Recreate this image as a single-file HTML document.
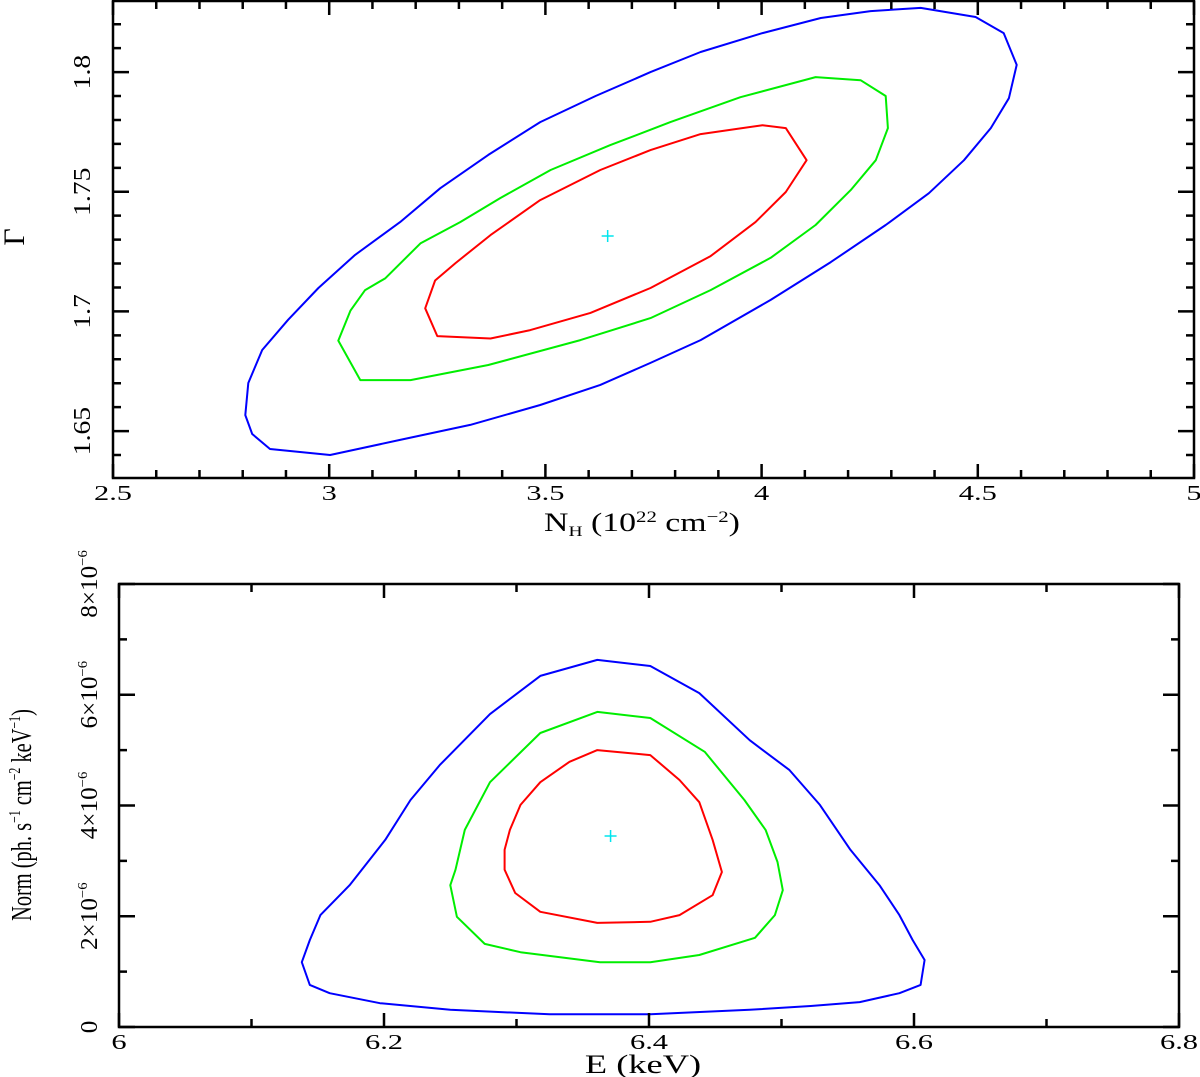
<!DOCTYPE html>
<html><head><meta charset="utf-8">
<style>
html,body{margin:0;padding:0;background:#fff;}
svg{display:block;font-family:"Liberation Serif",serif;}
</style></head>
<body>
<svg id="fig" width="1200" height="1077" viewBox="0 0 1200 1077" xmlns="http://www.w3.org/2000/svg"></svg>
<script>
// ---- Top panel data (NH, Gamma) ----
const topBlueNH=[4.590,4.572,4.530,4.468,4.387,4.287,4.160,4.021,3.859,3.743,3.627,3.488,3.326,3.164,3.002,2.863,2.822,2.806,2.813,2.845,2.905,2.975,3.060,3.164,3.257,3.368,3.488,3.616,3.743,3.859,4.002,4.137,4.252,4.368,4.495,4.560];
const topBlueG=[1.8030,1.7891,1.7766,1.7632,1.7494,1.7361,1.7206,1.7048,1.6880,1.6785,1.6693,1.6609,1.6526,1.6463,1.6400,1.6425,1.6488,1.6567,1.6701,1.6839,1.6965,1.7098,1.7236,1.7373,1.7515,1.7654,1.7791,1.7900,1.8000,1.8084,1.8163,1.8226,1.8255,1.8268,1.8230,1.8163];
const topGreenNH=[4.292,4.264,4.206,4.125,4.021,3.882,3.743,3.581,3.368,3.188,3.072,3.021,3.049,3.083,3.130,3.211,3.303,3.396,3.512,3.650,3.789,3.951,4.125,4.229,4.287];
const topGreenG=[1.7766,1.7632,1.7507,1.7361,1.7224,1.7089,1.6972,1.6880,1.6776,1.6713,1.6713,1.6878,1.7003,1.7089,1.7139,1.7284,1.7373,1.7474,1.7591,1.7695,1.7791,1.7895,1.7979,1.7966,1.7900];
const topRedNH=[4.104,4.056,3.986,3.882,3.743,3.604,3.465,3.373,3.250,3.222,3.245,3.292,3.373,3.488,3.627,3.743,3.859,4.002,4.056];
const topRedG=[1.7632,1.7499,1.7373,1.7231,1.7098,1.6994,1.6922,1.6887,1.6897,1.7013,1.7129,1.7202,1.7319,1.7465,1.7591,1.7674,1.7741,1.7778,1.7766];
const topBest=[3.644,1.7315];
const topXTicks=[2.5,3,3.5,4,4.5,5];
const topXTickLabels=["2.5","3","3.5","4","4.5","5"];
const topYTicks=[1.65,1.7,1.75,1.8];
const topYTickLabels=["1.65","1.7","1.75","1.8"];
const topYTickExps=["","","",""];
// ---- Bottom panel data (E keV, Norm in 1e-6) ----
const botBlueE=[6.138,6.144,6.159,6.197,6.250,6.325,6.401,6.476,6.522,6.559,6.589,6.605,6.608,6.599,6.589,6.574,6.552,6.529,6.506,6.476,6.438,6.401,6.361,6.318,6.280,6.242,6.220,6.201,6.174,6.152,6.144];
const botBlueN=[1.17,0.76,0.61,0.43,0.31,0.23,0.23,0.31,0.38,0.45,0.61,0.76,1.21,1.57,2.02,2.56,3.20,4.01,4.64,5.18,6.03,6.52,6.63,6.34,5.65,4.73,4.10,3.38,2.56,2.02,1.57];
const botGreenE=[6.254,6.250,6.255,6.276,6.303,6.363,6.401,6.438,6.480,6.495,6.501,6.497,6.488,6.472,6.442,6.401,6.361,6.318,6.280,6.261];
const botGreenN=[2.84,2.56,1.99,1.50,1.35,1.17,1.17,1.30,1.61,2.02,2.47,2.98,3.56,4.10,4.97,5.58,5.69,5.31,4.42,3.56];
const botRedE=[6.361,6.401,6.423,6.438,6.448,6.455,6.448,6.423,6.401,6.361,6.318,6.299,6.291,6.291,6.295,6.303,6.318,6.340];
const botRedN=[5.00,4.91,4.46,4.06,3.38,2.80,2.38,2.02,1.90,1.88,2.08,2.42,2.84,3.20,3.56,4.01,4.42,4.79];
const botBest=[6.371,3.45];
const botXTicks=[6,6.2,6.4,6.6,6.8];
const botXTickLabels=["6","6.2","6.4","6.6","6.8"];
const botYTicks=[0,2,4,6,8];
const botYTickLabels=["0","2×10","4×10","6×10","8×10"];
const botYTickExps=["","−6","−6","−6","−6"];

const NS="http://www.w3.org/2000/svg";
const svg=document.getElementById('fig');
function mk(tag,attrs,parent){const e=document.createElementNS(NS,tag);for(const k in attrs)e.setAttribute(k,attrs[k]);(parent||svg).appendChild(e);return e;}

function panel(p){
  const g=mk('g',{});
  
  
  const sx=v=>p.x0+(v-p.xmin)/(p.xmax-p.xmin)*(p.x1-p.x0);
  const sy=v=>p.y1-(v-p.ymin)/(p.ymax-p.ymin)*(p.y1-p.y0);
  p.series.forEach(s=>{
    const pts=s.xs.map((v,i)=>sx(v).toFixed(1)+','+sy(s.ys[i]).toFixed(1)).join(' ');
    const pl=mk('polygon',{points:pts,fill:'none',stroke:s.color,'stroke-width':2,'stroke-linejoin':'round'},g);
    
    
  });
  const bx=sx(p.best[0]),by=sy(p.best[1]);
  const cr=mk('path',{d:`M${bx-6},${by}H${bx+6}M${bx},${by-6}V${by+6}`,stroke:'#00e5ee','stroke-width':1.5},g);
  
  
  const fr=mk('rect',{x:p.x0,y:p.y0,width:p.x1-p.x0,height:p.y1-p.y0,fill:'none',stroke:'#000','stroke-width':2.5},g);
  
  
  let tk='';
  for(let v=p.xmin;v<=p.xmax+1e-9;v+=p.xminor){const x=sx(v);const major=Math.abs(v/p.xmajor-Math.round(v/p.xmajor))<1e-6;const L=major?14:8;tk+=`M${x},${p.y1}V${p.y1-L}M${x},${p.y0}V${p.y0+L}`;}
  let start=Math.ceil(p.ymin/p.yminor-1e-9)*p.yminor;
  for(let v=start;v<=p.ymax+1e-9;v+=p.yminor){const y=sy(v);const major=Math.abs(v/p.ymajor-Math.round(v/p.ymajor))<1e-6;const L=major?16:8;tk+=`M${p.x0},${y}H${p.x0+L}M${p.x1},${y}H${p.x1-L}`;}
  const tp=mk('path',{d:tk,stroke:'#000','stroke-width':2.5,fill:'none'},g);
  
  
  p.xt.forEach((v,i)=>{const t=mk('text',{x:0,y:0,'text-anchor':'middle','font-size':21,transform:`translate(${sx(v)},${p.y1+22}) scale(1.45,1)`},g);t.textContent=p.xl[i];
    
    });
  p.yt.forEach((v,i)=>{const y=sy(v);const t=mk('text',{x:0,y:0,'text-anchor':'middle','font-size':24,transform:`translate(${p.x0-p.ylabOff},${y}) rotate(-90) scale(${p.ylabScale},1)`},g);
    t.textContent=p.yl[i];
    if(p.ye[i]){const s=mk('tspan',{'font-size':14,dy:-10},t);s.textContent=p.ye[i];}
    
    });
  return g;
}

panel({name:'top-panel',x0:113,x1:1194,y0:1,y1:478,xmin:2.5,xmax:5,ymin:1.6304,ymax:1.8297,xmajor:0.5,xminor:0.1,ymajor:0.05,yminor:0.01,
  xt:topXTicks,xl:topXTickLabels,yt:topYTicks,yl:topYTickLabels,ye:topYTickExps,ylabOff:23,ylabScale:1.15,best:topBest,
  series:[{xs:topBlueNH,ys:topBlueG,color:'#0000ff',name:'contour-99'},{xs:topGreenNH,ys:topGreenG,color:'#00ee00',name:'contour-90'},{xs:topRedNH,ys:topRedG,color:'#ff0000',name:'contour-68'}]});
panel({name:'bottom-panel',x0:119,x1:1179,y0:584,y1:1027,xmin:6,xmax:6.8,ymin:0,ymax:8,xmajor:0.2,xminor:0.1,ymajor:2,yminor:1,
  xt:botXTicks,xl:botXTickLabels,yt:botYTicks,yl:botYTickLabels,ye:botYTickExps,ylabOff:22,ylabScale:1.05,best:botBest,
  series:[{xs:botBlueE,ys:botBlueN,color:'#0000ff',name:'contour-99'},{xs:botGreenE,ys:botGreenN,color:'#00ee00',name:'contour-90'},{xs:botRedE,ys:botRedN,color:'#ff0000',name:'contour-68'}]});

let t;
t=mk('text',{x:0,y:0,'text-anchor':'middle','font-size':26,transform:'translate(642,531) scale(1.3,1)'});
t.innerHTML='N<tspan font-size="15" dy="5">H</tspan><tspan dy="-5"> (10</tspan><tspan font-size="16" dy="-9">22</tspan><tspan dy="9"> cm</tspan><tspan font-size="16" dy="-9">−2</tspan><tspan dy="9">)</tspan>';


t=mk('text',{x:0,y:0,'text-anchor':'middle','font-size':30,transform:'translate(24,237) rotate(-90)'});
t.textContent='Γ';


t=mk('text',{x:0,y:0,'text-anchor':'middle','font-size':26,transform:'translate(643,1073) scale(1.4,1)'});
t.textContent='E (keV)';


t=mk('text',{x:0,y:0,'text-anchor':'middle','font-size':24,transform:'translate(31,815) rotate(-90) scale(0.85,1.2)'});
t.innerHTML='Norm (ph. s<tspan font-size="14" dy="-9">−1</tspan><tspan dy="9"> cm</tspan><tspan font-size="14" dy="-9">−2</tspan><tspan dy="9"> keV</tspan><tspan font-size="14" dy="-9">−1</tspan><tspan dy="9">)</tspan>';


</script>
</body></html>
